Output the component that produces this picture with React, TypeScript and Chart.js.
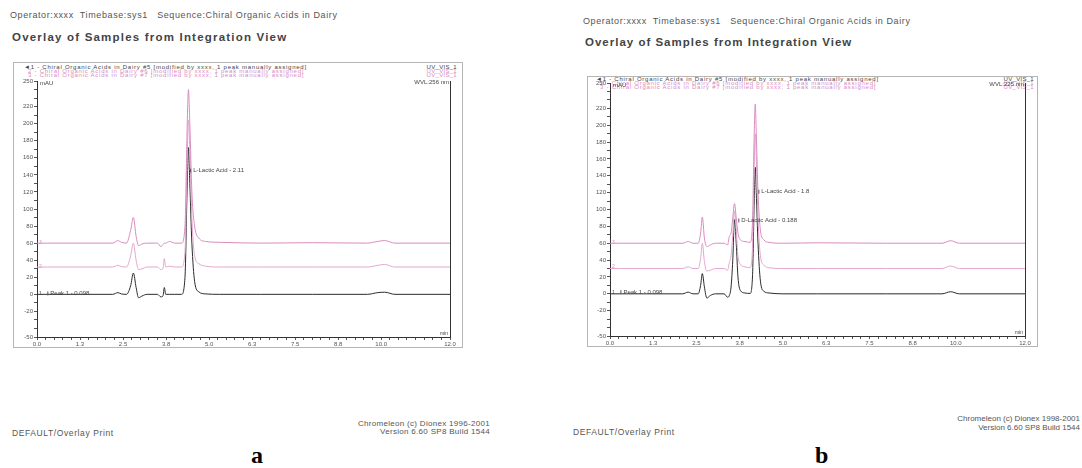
import React, { useEffect, useRef } from "react";
import { Chart, registerables } from "chart.js";
Chart.register(...registerables);

// ---------- Panel a data (retention time in min, signal in mAU) ----------
const timeA = [0, 0.3, 2.2, 2.35, 2.45, 2.6, 2.72, 2.8, 2.88, 2.95, 3.05, 3.2, 3.5, 3.6, 3.66, 3.7, 3.74, 3.85, 4.0, 4.2, 4.3, 4.36, 4.4, 4.44, 4.5, 4.58, 4.7, 4.9, 5.3, 6.5, 8, 9.6, 9.9, 10.1, 10.4, 12];
const sampleA5 = [0, 0, 0, 2, 0.5, 0, 10, 25, 8, -4, -2, 0, 0, -3, -2, 8, 0, 0, 0, 0, 20, 120, 172, 130, 60, 15, 3, 0.5, 0, 0, 0, 0, 2, 2.5, 0, 0];
const sampleA6 = [32, 32, 32, 34, 32.5, 32, 45, 60, 40, 29, 30, 32, 32, 29, 30, 42, 32, 33, 32, 32, 50, 150, 204, 170, 90, 45, 36, 33, 32, 32, 32, 32, 34, 35, 32, 32];
const sampleA7 = [60, 60, 60, 63, 61, 60, 75, 90, 68, 57, 59, 60, 60, 56, 58, 60, 60, 62, 60, 60, 80, 190, 240, 200, 120, 80, 66, 62, 61, 60, 60.5, 60, 62, 63, 60, 60];

// ---------- Panel b data ----------
const timeB = [0, 0.3, 2.1, 2.26, 2.4, 2.55, 2.62, 2.67, 2.73, 2.8, 2.9, 3.05, 3.3, 3.4, 3.45, 3.5, 3.55, 3.6, 3.65, 3.7, 3.77, 3.9, 4.05, 4.12, 4.17, 4.2, 4.23, 4.28, 4.35, 4.45, 4.6, 5.0, 6, 8, 9.6, 9.85, 10.1, 12];
const sampleB5 = [0, 0, 0, 2, 0, 0, 10, 24, 8, -5, -2, 0, 0, -4, -2, 8, 40, 88, 60, 20, 4, 1, 0.5, 20, 110, 150, 120, 60, 15, 3, 1, 0, 0, 0, 0, 2.5, 0, 0];
const sampleB6 = [30, 30, 30, 32, 30, 30, 42, 60, 38, 27, 28, 30, 30, 28, 37, 45, 70, 98, 75, 45, 35, 32, 31, 55, 150, 190, 160, 90, 45, 34, 31, 30, 30, 30, 30, 33, 30, 30];
const sampleB7 = [60, 60, 60, 62, 60, 60, 72, 91, 66, 56, 58, 60, 60, 58, 68, 72, 90, 107, 90, 72, 64, 62, 61, 85, 190, 225, 190, 120, 75, 64, 61, 60, 60.5, 60, 60, 63, 60, 60];

// ---------- Axis labels ----------
const yLabelValues = [-50, -20, 0, 20, 40, 60, 80, 100, 120, 140, 160, 180, 200, 220, 250];
const xLabelValues = [0, 1.25, 2.5, 3.75, 5, 6.25, 7.5, 8.75, 10, 12];
const xLabelTexts = ["0.0", "1.3", "2.5", "3.8", "5.0", "6.3", "7.5", "8.8", "10.0", "12.0"];

const legendNames = [
  "1 - Chiral Organic Acids in Dairy #5 [modified by xxxx, 1 peak manually assigned]",
  "2 - Chiral Organic Acids in Dairy #6 [modified by xxxx, 1 peak manually assigned]",
  "3 - Chiral Organic Acids in Dairy #7 [modified by xxxx, 1 peak manually assigned]",
];
const channelNames = ["UV_VIS_1", "UV_VIS_1", "UV_VIS_1"];

const peakLabelsA = [
  { text: "Peak 1 - 0.098", t: 0.3, v: 1 },
  { text: "L-Lactic Acid - 2.11", t: 4.45, v: 145 },
];
const peakLabelsB = [
  { text: "Peak 1 - 0.098", t: 0.3, v: 2 },
  { text: "D-Lactic Acid - 0.188", t: 3.71, v: 87 },
  { text: "L-Lactic Acid - 1.8", t: 4.29, v: 121 },
];
const traceOffsets = [0, 31, 60];

const BLACK = "#2b2b2b";
const PINK1 = "#e3a7cf";
const PINK2 = "#d98bc0";
const FONT = '"Liberation Sans", Arial, sans-serif';

const annotatePlugin = {
  id: "annotate",
  afterDatasetsDraw(chart: any, _args: any, opts: any) {
    const { ctx, chartArea } = chart;
    const x = chart.scales.x;
    const y = chart.scales.y;
    ctx.save();
    ctx.strokeStyle = "#333";
    ctx.lineWidth = 1;
    const rx = Math.round(chartArea.right) + 0.5;
    ctx.beginPath();
    ctx.moveTo(rx, chartArea.top);
    ctx.lineTo(rx, chartArea.bottom);
    ctx.stroke();
    ctx.font = `6px ${FONT}`;
    ctx.fillStyle = "#444";
    ctx.textBaseline = "middle";
    ctx.textAlign = "left";
    for (const p of opts.peaks) {
      const px = x.getPixelForValue(p.t);
      const py = y.getPixelForValue(p.v);
      ctx.strokeStyle = "#555";
      ctx.beginPath();
      ctx.moveTo(px + 0.5, py - 2);
      ctx.lineTo(px + 0.5, py + 2);
      ctx.stroke();
      ctx.fillText(p.text, px + 3, py);
    }
    ctx.font = `5px ${FONT}`;
    traceOffsets.forEach((o: number, i: number) => {
      ctx.fillStyle = i === 0 ? "#444" : PINK2;
      ctx.fillText(String(i + 1), chartArea.left + 2, y.getPixelForValue(o) - 1);
    });
    ctx.fillStyle = "#444";
    ctx.font = `6px ${FONT}`;
    ctx.textBaseline = "top";
    ctx.fillText("mAU", chartArea.left + 3, chartArea.top - 1);
    ctx.textAlign = "right";
    ctx.fillText(opts.wvl, chartArea.right - 1, chartArea.top - 2);
    ctx.font = `5px ${FONT}`;
    ctx.textBaseline = "bottom";
    ctx.fillText("min", chartArea.right - 2, chartArea.bottom - 1);
    ctx.restore();
  },
};

type PanelProps = {
  left: number; top: number; width: number; height: number;
  padTop: number; padRight: number; yWidth: number; xHeight: number;
  time: number[]; s1: number[]; s2: number[]; s3: number[];
  peaks: { text: string; t: number; v: number }[];
  wvl: string;
};

function Panel(props: PanelProps) {
  const ref = useRef<HTMLCanvasElement>(null);
  useEffect(() => {
    const mk = (vals: number[]) => props.time.map((t, i) => ({ x: t, y: vals[i] }));
    const ds = (vals: number[], color: string) => ({
      data: mk(vals),
      borderColor: color,
      borderWidth: 1,
      pointRadius: 0,
      fill: false,
      cubicInterpolationMode: "monotone" as const,
    });
    const chart = new Chart(ref.current!, {
      type: "line",
      data: {
        datasets: [ds(props.s3, PINK2), ds(props.s2, PINK1), ds(props.s1, BLACK)],
      },
      options: {
        animation: false,
        responsive: false,
        maintainAspectRatio: false,
        layout: { padding: { top: props.padTop, right: props.padRight, left: 0, bottom: 0 } },
        plugins: {
          legend: { display: false },
          tooltip: { enabled: false },
          annotate: { peaks: props.peaks, wvl: props.wvl },
        } as any,
        scales: {
          x: {
            type: "linear",
            min: 0,
            max: 12,
            afterFit: (s: any) => { s.height = props.xHeight; },
            border: { display: true, color: "#333", width: 1 },
            grid: { display: true, drawOnChartArea: false, drawTicks: true, tickLength: 3, color: "#555" },
            ticks: {
              stepSize: 0.25,
              autoSkip: false,
              maxRotation: 0,
              padding: 1,
              font: { size: 6, family: FONT },
              color: "#555",
              callback: (v: any) => {
                const i = xLabelValues.findIndex((q) => Math.abs(q - Number(v)) < 1e-6);
                return i >= 0 ? xLabelTexts[i] : "";
              },
            },
          },
          y: {
            type: "linear",
            min: -50,
            max: 250,
            afterFit: (s: any) => { s.width = props.yWidth; },
            border: { display: true, color: "#333", width: 1 },
            grid: { display: true, drawOnChartArea: false, drawTicks: true, tickLength: 3, color: "#555" },
            ticks: {
              stepSize: 10,
              autoSkip: false,
              padding: 1,
              font: { size: 6, family: FONT },
              color: "#555",
              callback: (v: any) => (yLabelValues.includes(Number(v)) ? String(v) : ""),
            },
          },
        },
      },
      plugins: [annotatePlugin as any],
    });
    return () => chart.destroy();
  }, []);
  return (
    <canvas
      ref={ref}
      width={props.width}
      height={props.height}
      style={{ position: "absolute", left: props.left, top: props.top, width: props.width, height: props.height }}
    />
  );
}

function T(p: { x: number; y: number; size: number; color?: string; bold?: boolean; right?: boolean; serif?: boolean; ls?: number; children: React.ReactNode }) {
  const style: React.CSSProperties = {
    position: "absolute",
    top: p.y - p.size / 2 - 1,
    fontSize: p.size,
    lineHeight: `${p.size + 2}px`,
    color: p.color || "#555",
    fontWeight: p.bold ? "bold" : "normal",
    fontFamily: p.serif ? '"Liberation Serif", "Times New Roman", serif' : FONT,
    whiteSpace: "pre",
    letterSpacing: p.ls ? `${p.ls}px` : undefined,
  };
  if (p.right) style.right = 1082 - p.x; else style.left = p.x;
  return <div style={style}>{p.children}</div>;
}

function Legend(p: { x: number; y: number; rightX: number }) {
  return (
    <>
      {legendNames.map((n, i) => (
        <T key={"l" + i} x={p.x + (i === 0 ? 0 : 4)} y={p.y + i * 4} size={6} ls={0.75} color={i === 0 ? "#444" : PINK2}>
          {(i === 0 ? "\u25c4" : "") + n}
        </T>
      ))}
      {channelNames.map((n, i) => (
        <T key={"c" + i} x={p.rightX} y={p.y + i * 4} size={6} ls={0.3} right color={i === 0 ? "#444" : PINK2}>
          {n}
        </T>
      ))}
    </>
  );
}

export default function App() {
  return (
    <div style={{ position: "absolute", left: 0, top: 0, width: 1082, height: 468, background: "#fff", overflow: "hidden" }}>
      {/* Panel a */}
      <T x={10} y={15} size={9} ls={0.6}>{"Operator:xxxx  Timebase:sys1   Sequence:Chiral Organic Acids in Dairy"}</T>
      <T x={12} y={38} size={11.5} bold color="#444" ls={1.2}>Overlay of Samples from Integration View</T>
      <div style={{ position: "absolute", left: 13, top: 62, width: 448, height: 284, border: "1px solid #b5b5b5" }} />
      <Legend x={24} y={67} rightX={457} />
      <Panel left={8} top={58} width={462} height={292} padTop={23} padRight={20} yWidth={29} xHeight={13}
        time={timeA} s1={sampleA5} s2={sampleA6} s3={sampleA7} peaks={peakLabelsA} wvl="WVL:256 nm" />
      <T x={12} y={433} size={8.5} ls={0.6}>DEFAULT/Overlay Print</T>
      <T x={490} y={424} size={8} ls={0.3} right>Chromeleon (c) Dionex 1996-2001</T>
      <T x={490} y={432} size={8} ls={0.3} right>Version 6.60 SP8 Build 1544</T>
      <T x={251} y={455} size={24} bold serif color="#000">a</T>

      {/* Panel b */}
      <T x={583} y={21} size={9} ls={0.6}>{"Operator:xxxx  Timebase:sys1   Sequence:Chiral Organic Acids in Dairy"}</T>
      <T x={585} y={43} size={11.5} bold color="#444" ls={1}>Overlay of Samples from Integration View</T>
      <div style={{ position: "absolute", left: 587, top: 76, width: 449, height: 269, border: "1px solid #b5b5b5" }} />
      <Legend x={596} y={79} rightX={1034} />
      <Panel left={582} top={60} width={462} height={290} padTop={23} padRight={19} yWidth={28} xHeight={14}
        time={timeB} s1={sampleB5} s2={sampleB6} s3={sampleB7} peaks={peakLabelsB} wvl="WVL:225 nm" />
      <T x={573} y={432} size={8.5} ls={0.6}>DEFAULT/Overlay Print</T>
      <T x={1080} y={419} size={8} right>Chromeleon (c) Dionex 1998-2001</T>
      <T x={1080} y={428} size={8} right>Version 6.60 SP8 Build 1544</T>
      <T x={815} y={455} size={24} bold serif color="#000">b</T>
    </div>
  );
}
